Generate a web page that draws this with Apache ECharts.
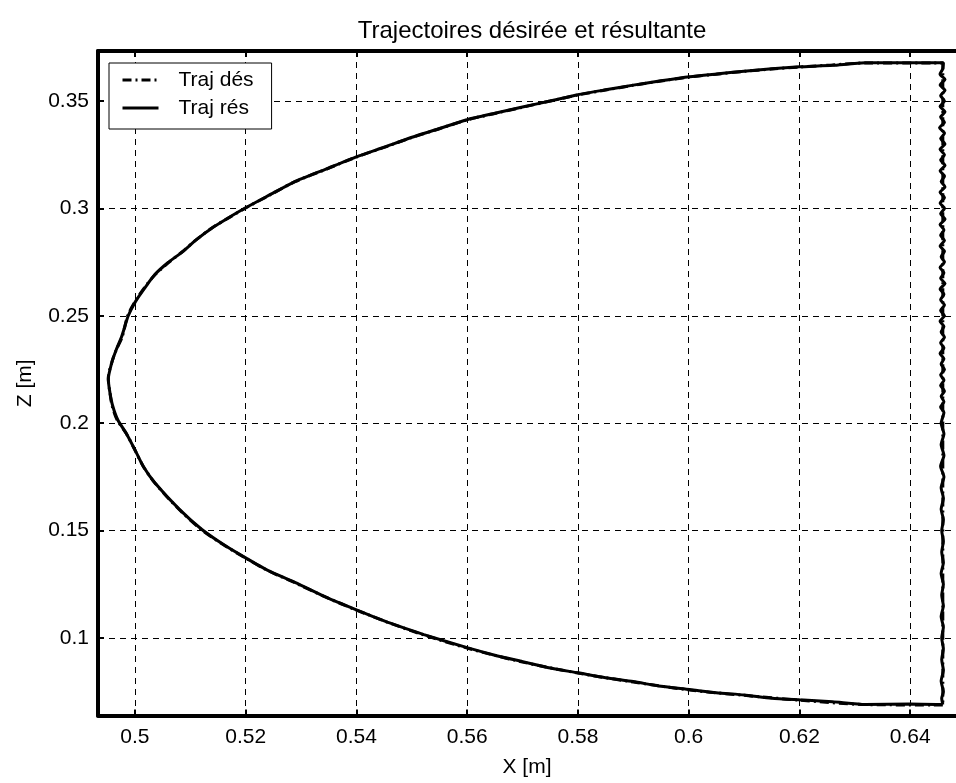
<!DOCTYPE html>
<html>
<head>
<meta charset="utf-8">
<script src="https://cdn.jsdelivr.net/npm/echarts@6/dist/echarts.min.js"></script>
<style>
  html, body { margin: 0; padding: 0; background: #fff; }
  #chart { width: 956px; height: 783px; }
</style>
</head>
<body>
<div id="chart"></div>
<script>
// Axis extents (metres) and tick values
const xRange = [0.49334, 0.64828];
const zRange = [0.06392, 0.37328];
const xTicks = [0.5, 0.52, 0.54, 0.56, 0.58, 0.6, 0.62, 0.64];
const zTicks = [0.1, 0.15, 0.2, 0.25, 0.3, 0.35];

const seriesNames = ['Traj dés', 'Traj rés'];

// Desired trajectory [X, Z]
const trajDes = [
  [0.6459, 0.0688], [0.6319, 0.0690], [0.6200, 0.0711], [0.6100, 0.0733],
  [0.6002, 0.0758], [0.5900, 0.0795], [0.5800, 0.0837], [0.5700, 0.0888],
  [0.5600, 0.0953], [0.5522, 0.1014], [0.5460, 0.1070], [0.5400, 0.1130],
  [0.5345, 0.1190], [0.5290, 0.1256], [0.5240, 0.1314], [0.5200, 0.1372],
  [0.5160, 0.1434], [0.5121, 0.1503], [0.5080, 0.1598], [0.5036, 0.1722],
  [0.5015, 0.1800], [0.5000, 0.1875], [0.4985, 0.1950], [0.4968, 0.2015],
  [0.4959, 0.2080], [0.4955, 0.2141], [0.4952, 0.2210], [0.4958, 0.2280],
  [0.4966, 0.2340], [0.4977, 0.2401], [0.4987, 0.2500], [0.5000, 0.2565],
  [0.5017, 0.2630], [0.5036, 0.2690], [0.5060, 0.2746], [0.5085, 0.2797],
  [0.5110, 0.2852], [0.5139, 0.2909], [0.5170, 0.2957], [0.5200, 0.3002],
  [0.5245, 0.3064], [0.5288, 0.3123], [0.5345, 0.3182], [0.5400, 0.3239],
  [0.5450, 0.3284], [0.5498, 0.3328], [0.5550, 0.3371], [0.5600, 0.3412],
  [0.5650, 0.3442], [0.5702, 0.3472], [0.5750, 0.3500], [0.5800, 0.3528],
  [0.5850, 0.3551], [0.5900, 0.3573], [0.5950, 0.3593], [0.6002, 0.3612],
  [0.6050, 0.3625], [0.6100, 0.3638], [0.6150, 0.3649], [0.6200, 0.3658],
  [0.6260, 0.3668], [0.6319, 0.3677], [0.6459, 0.3677], [0.6459, 0.0688]
];

// Resulting (measured) trajectory [X, Z]
const trajRes = [
  [0.6458, 0.0690], [0.6400, 0.0693], [0.6319, 0.0690], [0.6260, 0.0703],
  [0.6200, 0.0712], [0.6150, 0.0720], [0.6100, 0.0735], [0.6050, 0.0745],
  [0.6002, 0.0760], [0.5950, 0.0775], [0.5900, 0.0797], [0.5850, 0.0815],
  [0.5800, 0.0838], [0.5750, 0.0860], [0.5700, 0.0890], [0.5650, 0.0920],
  [0.5600, 0.0955], [0.5522, 0.1016], [0.5460, 0.1070], [0.5400, 0.1131],
  [0.5345, 0.1190], [0.5290, 0.1258], [0.5240, 0.1315], [0.5200, 0.1373],
  [0.5160, 0.1435], [0.5121, 0.1505], [0.5080, 0.1600], [0.5036, 0.1723],
  [0.5015, 0.1800], [0.5000, 0.1877], [0.4985, 0.1950], [0.4969, 0.2016],
  [0.4960, 0.2080], [0.4955, 0.2142], [0.4952, 0.2205], [0.4958, 0.2280],
  [0.4966, 0.2340], [0.4976, 0.2402], [0.4988, 0.2500], [0.5001, 0.2566],
  [0.5018, 0.2630], [0.5036, 0.2692], [0.5060, 0.2748], [0.5086, 0.2798],
  [0.5110, 0.2852], [0.5140, 0.2910], [0.5170, 0.2958], [0.5200, 0.3003],
  [0.5245, 0.3065], [0.5288, 0.3124], [0.5345, 0.3183], [0.5400, 0.3240],
  [0.5450, 0.3285], [0.5498, 0.3329], [0.5550, 0.3372], [0.5600, 0.3413],
  [0.5650, 0.3443], [0.5702, 0.3473], [0.5750, 0.3500], [0.5800, 0.3529],
  [0.5850, 0.3552], [0.5900, 0.3574], [0.5950, 0.3594], [0.6002, 0.3613],
  [0.6050, 0.3626], [0.6100, 0.3639], [0.6150, 0.3650], [0.6200, 0.3659],
  [0.6260, 0.3666], [0.6319, 0.3678], [0.6400, 0.3678], [0.6460, 0.3678],
  [0.6459, 0.3650], [0.6454, 0.3625], [0.6463, 0.3600], [0.6454, 0.3575],
  [0.6463, 0.3550], [0.6455, 0.3525], [0.6462, 0.3500], [0.6454, 0.3475],
  [0.6463, 0.3450], [0.6455, 0.3425], [0.6462, 0.3400], [0.6453, 0.3375],
  [0.6462, 0.3350], [0.6455, 0.3325], [0.6463, 0.3300], [0.6454, 0.3275],
  [0.6462, 0.3250], [0.6455, 0.3225], [0.6463, 0.3200], [0.6454, 0.3175],
  [0.6462, 0.3150], [0.6456, 0.3125], [0.6463, 0.3100], [0.6454, 0.3075],
  [0.6462, 0.3050], [0.6454, 0.3025], [0.6462, 0.3000], [0.6455, 0.2975],
  [0.6463, 0.2950], [0.6454, 0.2925], [0.6461, 0.2900], [0.6455, 0.2875],
  [0.6462, 0.2850], [0.6454, 0.2825], [0.6462, 0.2800], [0.6456, 0.2775],
  [0.6462, 0.2750], [0.6454, 0.2725], [0.6461, 0.2700], [0.6455, 0.2675],
  [0.6463, 0.2650], [0.6454, 0.2625], [0.6461, 0.2600], [0.6455, 0.2575],
  [0.6462, 0.2550], [0.6455, 0.2525], [0.6462, 0.2500], [0.6454, 0.2475],
  [0.6461, 0.2450], [0.6456, 0.2425], [0.6462, 0.2400], [0.6455, 0.2375],
  [0.6461, 0.2350], [0.6454, 0.2325], [0.6461, 0.2300], [0.6456, 0.2275],
  [0.6462, 0.2250], [0.6455, 0.2225], [0.6461, 0.2200], [0.6455, 0.2175],
  [0.6462, 0.2150], [0.6456, 0.2125], [0.6461, 0.2100], [0.6455, 0.2075],
  [0.6461, 0.2050], [0.6456, 0.2000], [0.6461, 0.1950], [0.6456, 0.1900],
  [0.6461, 0.1850], [0.6455, 0.1800], [0.6461, 0.1750], [0.6456, 0.1700],
  [0.6460, 0.1650], [0.6456, 0.1600], [0.6460, 0.1550], [0.6457, 0.1500],
  [0.6460, 0.1450], [0.6457, 0.1400], [0.6460, 0.1350], [0.6456, 0.1300],
  [0.6460, 0.1250], [0.6457, 0.1200], [0.6460, 0.1150], [0.6456, 0.1100],
  [0.6460, 0.1050], [0.6457, 0.1000], [0.6460, 0.0950], [0.6457, 0.0900],
  [0.6460, 0.0850], [0.6456, 0.0800], [0.6460, 0.0750], [0.6457, 0.0720],
  [0.6459, 0.0690]
];

const FONT = "'Liberation Sans', Arial, Helvetica, sans-serif";
const chart = echarts.init(document.getElementById('chart'), null, { renderer: 'canvas' });

const gridLine = { show: true, lineStyle: { color: '#000', width: 1, type: [6, 5] } };
const frameLine = { show: true, onZero: false, lineStyle: { color: '#000', width: 4 } };
const inTick = { show: true, inside: true, length: 6, lineStyle: { color: '#000', width: 2 } };
const labelFont = { fontFamily: FONT, fontSize: 21, color: '#000' };

const option = {
  animation: false,
  backgroundColor: '#fff',
  title: {
    text: 'Trajectoires désirée et résultante',
    left: 527, top: 14, textAlign: 'center',
    textStyle: { fontFamily: FONT, fontSize: 24, fontWeight: 'normal', color: '#000' }
  },
  legend: {
    orient: 'vertical',
    left: 109, top: 63,
    padding: [6, 18, 10, 12],
    itemGap: 6,
    itemWidth: 36, itemHeight: 14,
    borderColor: '#000', borderWidth: 1, borderRadius: 0,
    backgroundColor: '#fff',
    data: seriesNames,
    itemStyle: { color: 'transparent', borderWidth: 0, opacity: 0 },
    lineStyle: { width: 3 },
    textStyle: { fontFamily: FONT, fontSize: 21, color: '#000', lineHeight: 22, padding: [0, 0, 0, 15] }
  },
  grid: { left: 98, top: 51, right: -3, bottom: 67.5, containLabel: false },
  xAxis: [
    {
      type: 'value', min: xRange[0], max: xRange[1], position: 'bottom',
      name: 'X [m]', nameLocation: 'middle', nameGap: 41,
      nameTextStyle: labelFont,
      axisLine: frameLine, axisTick: { ...inTick, customValues: xTicks },
      splitLine: gridLine,
      axisLabel: { ...labelFont, customValues: xTicks, margin: 11 }
    },
    {
      type: 'value', min: xRange[0], max: xRange[1], position: 'top',
      axisLine: frameLine, axisTick: { ...inTick, customValues: xTicks },
      splitLine: { show: false }, axisLabel: { show: false }
    }
  ],
  yAxis: [
    {
      type: 'value', min: zRange[0], max: zRange[1], position: 'left',
      name: 'Z [m]', nameLocation: 'middle', nameGap: 62, nameRotate: 90,
      nameTextStyle: labelFont,
      axisLine: frameLine, axisTick: { ...inTick, customValues: zTicks },
      splitLine: gridLine,
      axisLabel: { ...labelFont, customValues: zTicks, margin: 9 }
    }
  ],
  series: [
    {
      name: seriesNames[0], type: 'line', data: trajDes,
      symbol: 'none', smooth: 0.3, clip: true,
      lineStyle: { color: '#000', width: 3, type: [9, 4, 2, 4] },
      z: 3
    },
    {
      name: seriesNames[1], type: 'line', data: trajRes,
      symbol: 'none', smooth: 0.2, clip: true,
      lineStyle: { color: '#000', width: 3, type: 'solid' },
      z: 4
    }
  ]
};
chart.setOption(option);
</script>
</body>
</html>
